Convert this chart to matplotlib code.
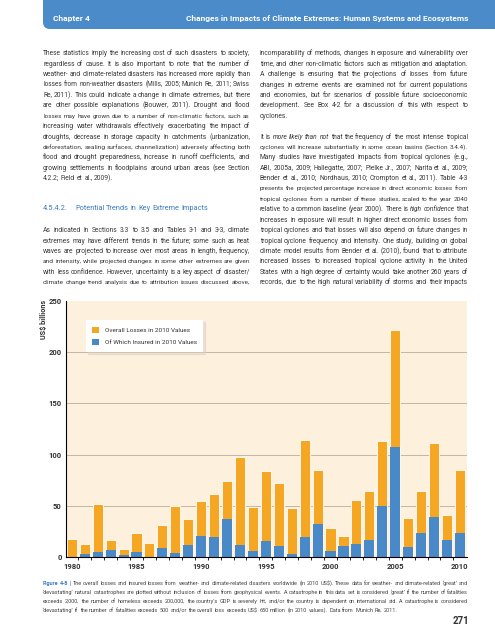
import math
import matplotlib
matplotlib.use('Agg')
import matplotlib.pyplot as plt
from matplotlib import font_manager
from matplotlib.backends.backend_agg import get_hinting_flag
from matplotlib.patches import FancyBboxPatch, Patch

names = {f.name for f in font_manager.fontManager.ttflist}
NARROW = 'Liberation Sans Narrow' if 'Liberation Sans Narrow' in names else 'Roboto'
plt.rcParams['font.family'] = [NARROW, 'DejaVu Sans']

# chart data (US$ billions, 2010 values)
years = list(range(1980, 2011))
overall = [17.5, 12.5, 51.5, 16.5, 8, 23, 13.5, 31, 49.5, 37,
           55, 62, 74, 98, 49, 83.5, 72.5, 48, 114.5, 84.5,
           28.5, 20.5, 55.5, 64, 113.5, 222, 38, 64, 111.5, 41, 84.5]
insured = [0.2, 2.8, 5, 6.8, 2.2, 5, 0.3, 9, 3.7, 12,
           20.2, 19.3, 37, 11.8, 6, 15.5, 10.8, 2.8, 19.5, 32.5,
           6, 10.3, 12.5, 16.5, 49.5, 107, 10, 23, 39, 16.5, 23]
y_ticks = [0, 50, 100, 150, 200, 250]
x_ticks = [1980, 1985, 1990, 1995, 2000, 2005, 2010]
legend_labels = ['Overall Losses in 2010 Values', 'Of Which Insured in 2010 Values']
y_label = 'US$ billions'

# page text
header_left = 'Chapter 4'
header_right = 'Changes in Impacts of Climate Extremes: Human Systems and Ecosystems'
left_para1 = [
    'These statistics imply the increasing cost of such disasters to society,',
    'regardless of cause. It is also important to note that the number of',
    'weather- and climate-related disasters has increased more rapidly than',
    'losses from non-weather disasters (Mills, 2005; Munich Re, 2011; Swiss',
    'Re, 2011). This could indicate a change in climate extremes, but there',
    'are other possible explanations (Bouwer, 2011). Drought and flood',
    'losses may have grown due to a number of non-climatic factors, such as',
    'increasing water withdrawals effectively exacerbating the impact of',
    'droughts, decrease in storage capacity in catchments (urbanization,',
    'deforestation, sealing surfaces, channelization) adversely affecting both',
    'flood and drought preparedness, increase in runoff coefficients, and',
    'growing settlements in floodplains around urban areas (see Section',
    '4.2.2; Field et al., 2009).',
]
heading = ['4.5.4.2.', 'Potential Trends in Key Extreme Impacts']
left_para2 = [
    'As indicated in Sections 3.3 to 3.5 and Tables 3-1 and 3-3, climate',
    'extremes may have different trends in the future; some such as heat',
    'waves are projected to increase over most areas in length, frequency,',
    'and intensity, while projected changes in some other extremes are given',
    'with less confidence. However, uncertainty is a key aspect of disaster/',
    'climate change trend analysis due to attribution issues discussed above,',
]
right_col = [
    'incomparability of methods, changes in exposure and vulnerability over',
    'time, and other non-climatic factors such as mitigation and adaptation.',
    'A challenge is ensuring that the projections of losses from future',
    'changes in extreme events are examined not for current populations',
    'and economies, but for scenarios of possible future socioeconomic',
    'development. See Box 4-2 for a discussion of this with respect to',
    'cyclones.',
    None,
    'It is *more* *likely* *than* *not* that the frequency of the most intense tropical',
    'cyclones will increase substantially in some ocean basins (Section 3.4.4).',
    'Many studies have investigated impacts from tropical cyclones (e.g.,',
    'ABI, 2005a, 2009; Hallegatte, 2007; Pielke Jr., 2007; Narita et al., 2009;',
    'Bender et al., 2010; Nordhaus, 2010; Crompton et al., 2011). Table 4-3',
    'presents the projected percentage increase in direct economic losses from',
    'tropical cyclones from a number of these studies, scaled to the year 2040',
    'relative to a common baseline (year 2000). There is *high* *confidence* that',
    'increases in exposure will result in higher direct economic losses from',
    'tropical cyclones and that losses will also depend on future changes in',
    'tropical cyclone frequency and intensity. One study, building on global',
    'climate model results from Bender et al. (2010), found that to attribute',
    'increased losses to increased tropical cyclone activity in the United',
    'States with a high degree of certainty would take another 260 years of',
    'records, due to the high natural variability of storms and their impacts',
]
caption = [
    '^Figure ^4-8 ^| The overall losses and insured losses from weather- and climate-related disasters worldwide (in 2010 US$). These data for weather- and climate-related \u2018great\u2019 and',
    '\u2018devastating\u2019 natural catastrophes are plotted without inclusion of losses from geophysical events. A catastrophe in this data set is considered \u2018great\u2019 if the number of fatalities',
    'exceeds 2,000, the number of homeless exceeds 200,000, the country\u2019s GDP is severely hit, and/or the country is dependent on international aid. A catastrophe is considered',
    '\u2018devastating\u2019 if the number of fatalities exceeds 500 and/or the overall loss exceeds US$ 650 million (in 2010 values). Data from Munich Re, 2011.',
]
page_no = '271'

ORANGE = '#f5a623'
BLUE = '#4a89c8'
CREAM = '#fdf1de'
TXT = '#3a3a3a'
BAND = '#4b8bca'
HEADING = '#3b7cc0'

fig = plt.figure(figsize=(4.95, 6.4), dpi=100)
page = fig.add_axes([0, 0, 1, 1])
page.set_xlim(0, 495)
page.set_ylim(640, 0)
page.axis('off')
renderer = fig.canvas.get_renderer()

# header band
page.add_patch(FancyBboxPatch((43, -30), 500, 59, boxstyle='round,pad=0,rounding_size=7',
                              fc=BAND, ec='none'))
page.text(53, 19, header_left, color='white', weight='bold', fontsize=6, va='center')
page.text(468, 19, header_right, color='white', weight='bold', fontsize=6, va='center', ha='right')

STYLES = {'': {}, 'it': {'style': 'italic'}, 'fig': {'weight': 'bold', 'color': HEADING}}


def measure(s, size, style=''):
    t = page.text(0, 0, s, fontsize=size, **STYLES[style])
    w = t.get_window_extent(renderer).width
    t.remove()
    return w


def put_word(x, base_px, s, size, color, style):
    # place a word so that its baseline lands on pixel row base_px once Agg rounds it
    kw = dict(fontsize=size, color=color, va='baseline')
    kw.update(STYLES[style])
    t = page.text(x, base_px, s, **kw)
    font = renderer._prepare_font(t.get_fontproperties())
    font.set_text(s, 0, flags=get_hinting_flag())
    d = font.get_descent() / 64.0
    ym = font.get_width_height()[1] / 64.0 - d
    t.set_y(base_px - (math.floor(ym) - math.floor(ym + d)) - d)
    return t


def parse(tok):
    if len(tok) > 2 and tok[0] == '*' and tok[-1] == '*':
        return tok[1:-1], 'it'
    if tok[0] == '^':
        return tok[1:], 'fig'
    return tok, ''


SPACE10 = measure('a a', 10) - measure('aa', 10)


def line_need(line):
    toks = [parse(t) for t in line.split()]
    w10 = [measure(w, 10, k) for w, k in toks]
    return toks, w10, sum(w10) + SPACE10 * (len(toks) - 1)


def fit_size(lines, width, cap, q=0.5):
    ratios = sorted(10 * width / line_need(l)[2] for l in lines if l is not None)
    return min(cap, ratios[int(q * (len(ratios) - 1))])


def draw_block(lines, x0, width, y0, step, size, flush_last, color=TXT, justify=True):
    for i, line in enumerate(lines):
        if line is None:
            continue
        y = y0 + i * step
        toks, w10, need = line_need(line)
        s = min(size, 10 * width / need)
        widths = [w * s / 10 for w in w10]
        ngaps = len(toks) - 1
        last = i == len(lines) - 1 or lines[i + 1] is None
        gap = SPACE10 * s / 10
        if justify and ngaps and not (last and flush_last):
            gap = (width - sum(widths)) / ngaps
        base = round(y + s * 100 / 72 * 0.34)
        x = x0
        for (w, k), wd in zip(toks, widths):
            put_word(x, base, w, s, color, k)
            x += wd + gap


STEP = 10.41
body = fit_size(left_para1 + left_para2 + right_col, 207, 6.0, 0.5)
draw_block(left_para1, 43, 207, 53, STEP, body, True)
hs = body * 1.1
hy = round(207.7 + hs * 100 / 72 * 0.34)
put_word(43, hy, heading[0], hs, HEADING, '')
draw_block([heading[1]], 43 + measure(heading[0], hs) + 7, 400, 207.7, STEP, hs, True,
           color=HEADING, justify=False)
draw_block(left_para2, 43, 207, 230, STEP, body, False)
draw_block(right_col, 260, 208, 53, STEP, body, False)

cap_size = fit_size(caption, 425, 5.0, 0.5)
draw_block(caption, 43, 425, 583, 9.2, cap_size, True, color='#444444')
page.text(469, 621, page_no, ha='right', va='center', weight='bold', fontsize=7, color='#333333')

# chart
ax = fig.add_axes([66 / 495, 1 - 557 / 640, 401 / 495, 256 / 640])
ax.set_facecolor(CREAM)
for v in y_ticks[1:-1]:
    ax.axhline(v, color='#b8ad9c', lw=0.6, zorder=1)
ax.bar(years, overall, width=0.78, color=ORANGE, edgecolor='#fff8ee', linewidth=0.7, zorder=3)
ax.bar(years, insured, width=0.78, color=BLUE, linewidth=0, zorder=4)
ax.set_xlim(1979.55, 2010.55)
ax.set_ylim(0, 250)
ax.set_yticks(y_ticks)
ax.set_xticks(x_ticks)
ax.set_xticks([y + 0.5 for y in years[:-1]], minor=True)
for s in ['top', 'right']:
    ax.spines[s].set_visible(False)
for s in ['left', 'bottom']:
    ax.spines[s].set_linewidth(0.8)
    ax.spines[s].set_zorder(5)
ax.tick_params(axis='y', length=0, pad=3, labelsize=5.5, labelcolor='#333333')
ax.tick_params(axis='x', which='major', length=0, pad=4, labelsize=5.5, labelcolor='#333333')
ax.tick_params(axis='x', which='minor', length=2.5, width=0.6, direction='out', color='black')
for lbl in ax.get_yticklabels() + ax.get_xticklabels():
    lbl.set_fontweight('bold')

handles = [Patch(fc=ORANGE), Patch(fc=BLUE)]
ax.legend(handles, legend_labels, loc='upper left', bbox_to_anchor=(0.05, 0.925),
          fontsize=4.6, frameon=True, fancybox=False, facecolor='white', edgecolor='none',
          framealpha=1, shadow={'color': '#ddd3c5', 'ox': 1.5, 'oy': -1.5},
          handlelength=1.1, handleheight=1.1, borderpad=1.0, labelspacing=1.0,
          handletextpad=0.8, borderaxespad=0, labelcolor='#333333')

page.text(44, 319, y_label, rotation=90, ha='center', va='center', weight='bold',
          fontsize=5.2, color='#333333')

fig.savefig('out.png', dpi=100)
